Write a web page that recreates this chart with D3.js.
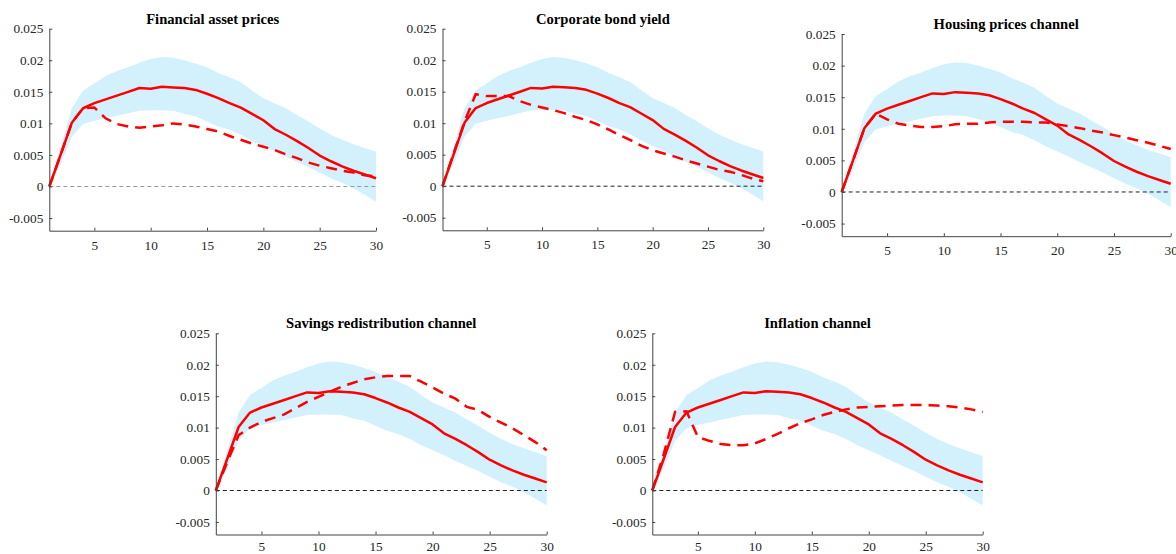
<!DOCTYPE html>
<html>
<head>
<meta charset="utf-8">
<script src="https://cdn.jsdelivr.net/npm/d3@7"></script>
<style>
  html, body { margin: 0; padding: 0; background: #fff; }
  svg { display: block; }
</style>
</head>
<body>
<svg id="chart" width="1176" height="554"></svg>
<script>
// Impulse-response horizon (periods)
const horizon = [1, 2, 3, 4, 5, 6, 7, 8, 9, 10, 11, 12, 13, 14, 15,
                 16, 17, 18, 19, 20, 21, 22, 23, 24, 25, 26, 27, 28, 29, 30];

// Baseline response (solid line) and its confidence band
const baseline = [0, 0.0050, 0.0101, 0.0124, 0.0132, 0.0138, 0.0144, 0.0150, 0.0156, 0.0155,
                  0.0158, 0.0157, 0.0156, 0.0153, 0.0147, 0.0140, 0.0132, 0.0125, 0.0115, 0.0105,
                  0.0091, 0.0082, 0.0072, 0.0061, 0.0049, 0.0040, 0.0032, 0.0025, 0.0019, 0.0013];
const bandUpper = [0, 0.0063, 0.0124, 0.0152, 0.0163, 0.0175, 0.0183, 0.0189, 0.0196, 0.0202,
                   0.0205, 0.0204, 0.0200, 0.0195, 0.0189, 0.0180, 0.0173, 0.0165, 0.0152, 0.0140,
                   0.0132, 0.0124, 0.0113, 0.0103, 0.0092, 0.0082, 0.0074, 0.0067, 0.0061, 0.0055];
const bandLower = [0, 0.0035, 0.0079, 0.0099, 0.0104, 0.0108, 0.0112, 0.0116, 0.0120, 0.0121,
                   0.0121, 0.0120, 0.0115, 0.0111, 0.0103, 0.0095, 0.0090, 0.0082, 0.0072, 0.0064,
                   0.0056, 0.0047, 0.0039, 0.0031, 0.0022, 0.0013, 0.0006, -0.0003, -0.0013, -0.0024];

// Counterfactual responses (dashed line), one per channel
const financialAssets = [0, 0.0050, 0.0101, 0.0124, 0.0125, 0.0108, 0.0099, 0.0095, 0.0093, 0.0095,
                         0.0097, 0.0100, 0.0098, 0.0095, 0.0091, 0.0087, 0.0080, 0.0074, 0.0068, 0.0063,
                         0.0058, 0.0051, 0.0045, 0.0038, 0.0033, 0.0029, 0.0025, 0.0022, 0.0018, 0.0016];
const corporateBond = [0, 0.0052, 0.0103, 0.0146, 0.0143, 0.0143, 0.0143, 0.0135, 0.0129, 0.0125,
                       0.0121, 0.0116, 0.0110, 0.0105, 0.0098, 0.0090, 0.0081, 0.0073, 0.0064, 0.0057,
                       0.0052, 0.0047, 0.0041, 0.0036, 0.0031, 0.0026, 0.0023, 0.0018, 0.0012, 0.0008];
const housingPrices = [0, 0.0050, 0.0101, 0.0124, 0.0115, 0.0108, 0.0105, 0.0103, 0.0103, 0.0104,
                       0.0107, 0.0108, 0.0108, 0.0110, 0.0111, 0.0111, 0.0111, 0.0110, 0.0110, 0.0107,
                       0.0104, 0.0101, 0.0097, 0.0094, 0.0090, 0.0086, 0.0082, 0.0078, 0.0073, 0.0068];
const savingsRedistribution = [0, 0.0045, 0.0088, 0.0100, 0.0109, 0.0115, 0.0121, 0.0131, 0.0141, 0.0149,
                               0.0157, 0.0165, 0.0171, 0.0177, 0.0180, 0.0182, 0.0182, 0.0182, 0.0173, 0.0164,
                               0.0154, 0.0146, 0.0133, 0.0128, 0.0117, 0.0108, 0.0099, 0.0088, 0.0077, 0.0064];
const inflation = [0, 0.0058, 0.0125, 0.0126, 0.0085, 0.0079, 0.0074, 0.0072, 0.0072, 0.0075,
                   0.0082, 0.0090, 0.0099, 0.0107, 0.0113, 0.0120, 0.0125, 0.0129, 0.0132, 0.0133,
                   0.0134, 0.0135, 0.0136, 0.0136, 0.0136, 0.0135, 0.0134, 0.0132, 0.0129, 0.0125];

const panelTitles = ["Financial asset prices", "Corporate bond yield", "Housing prices channel",
                     "Savings redistribution channel", "Inflation channel"];
const panelSeries = [financialAssets, corporateBond, housingPrices, savingsRedistribution, inflation];

// Axis ticks
const xTicks = [5, 10, 15, 20, 25, 30];
const yTicks = [-0.005, 0, 0.005, 0.01, 0.015, 0.02, 0.025];
const yTickLabels = ["-0.005", "0", "0.005", "0.01", "0.015", "0.02", "0.025"];
const yDomain = [-0.007, 0.025];

// Plot-area boxes of the five panels (pixels)
const frames = [
  { left: 49.3,  right: 376,    top: 28.7,  bottom: 230.7, zeroColor: "#9a9a9a", xPad: 9.5 },
  { left: 442.5, right: 763.3,  top: 28.7,  bottom: 230.3, zeroColor: "#222",    xPad: 9.5 },
  { left: 841.7, right: 1170.7, top: 34,    bottom: 236.2, zeroColor: "#222",    xPad: 9.5 },
  { left: 215.8, right: 546.7,  top: 333.3, bottom: 534.5, zeroColor: "#222",    xPad: 7.5 },
  { left: 652.3, right: 982.7,  top: 333.3, bottom: 534.5, zeroColor: "#222",    xPad: 7.5 }
];

const FONT = "'Liberation Serif', 'Times New Roman', serif";
const RED = "#ff0000";
const BAND = "#d3f1fc";
const AXIS = "#444";

const svg = d3.select("#chart");

panelTitles.forEach((title, i) => {
  const f = frames[i];
  const cf = panelSeries[i];
  const x = d3.scaleLinear().domain([1, 30]).range([f.left, f.right]);
  const y = d3.scaleLinear().domain(yDomain).range([f.bottom, f.top]);
  const g = svg.append("g");

  // confidence band
  const area = d3.area()
    .x((d, k) => x(horizon[k]))
    .y0((d, k) => y(bandLower[k]))
    .y1((d, k) => y(bandUpper[k]));
  g.append("path").datum(baseline).attr("d", area).attr("fill", BAND);

  // zero reference line
  g.append("line")
    .attr("x1", x(1)).attr("x2", x(30))
    .attr("y1", y(0)).attr("y2", y(0))
    .attr("stroke", f.zeroColor).attr("stroke-width", 1)
    .attr("stroke-dasharray", "4,3");

  const line = d3.line().x((d, k) => x(horizon[k])).y(d => y(d));

  // baseline response
  g.append("path").datum(baseline).attr("d", line)
    .attr("fill", "none").attr("stroke", RED).attr("stroke-width", 2.5)
    .attr("stroke-linejoin", "round");

  // counterfactual response
  g.append("path").datum(cf).attr("d", line)
    .attr("fill", "none").attr("stroke", RED).attr("stroke-width", 2.5)
    .attr("stroke-dasharray", "11,7");

  // axes
  const yAxis = d3.axisLeft(y).tickValues(yTicks)
    .tickFormat((d, k) => yTickLabels[k])
    .tickSizeInner(-3).tickSizeOuter(0).tickPadding(6);
  const yg = g.append("g").attr("transform", `translate(${f.left},0)`).call(yAxis);

  const xAxis = d3.axisBottom(x).tickValues(xTicks)
    .tickFormat(d3.format("d"))
    .tickSizeInner(-3).tickSizeOuter(0).tickPadding(f.xPad);
  const xg = g.append("g").attr("transform", `translate(0,${f.bottom})`).call(xAxis);

  [yg, xg].forEach(ax => {
    ax.attr("font-family", FONT).attr("font-size", 13.3);
    ax.select(".domain").attr("stroke", AXIS).attr("stroke-width", 1);
    ax.selectAll(".tick line").attr("stroke", AXIS);
    ax.selectAll(".tick text").attr("fill", "#262626");
  });

  // panel title
  g.append("text")
    .attr("x", (f.left + f.right) / 2)
    .attr("y", f.top - 5)
    .attr("text-anchor", "middle")
    .attr("font-family", FONT)
    .attr("font-weight", "bold")
    .attr("font-size", 14.6)
    .attr("fill", "#000")
    .text(title);
});
</script>
</body>
</html>
